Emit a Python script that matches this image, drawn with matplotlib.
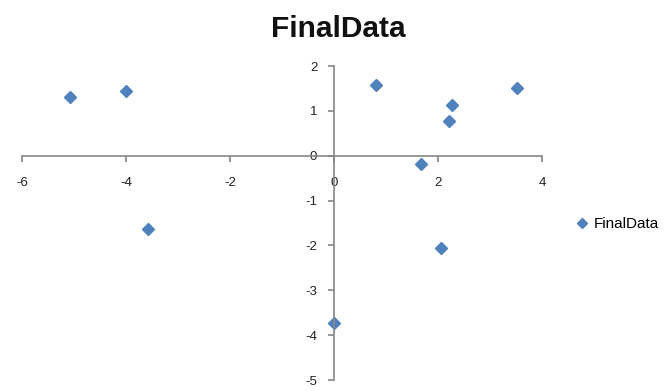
import matplotlib
matplotlib.use("Agg")
import matplotlib.pyplot as plt

# dados
x_vals = [-5.08, -4.0, -3.58, 0.81, 3.53, 2.28, 2.22, 1.67, 2.06, 0.0]
y_vals = [1.30, 1.44, -1.63, 1.58, 1.51, 1.13, 0.78, -0.18, -2.06, -3.72]
x_ticks = [-6, -4, -2, 0, 2, 4]
y_ticks = [-5, -4, -3, -2, -1, 0, 1, 2]
serie = "FinalData"

plt.rcParams["font.family"] = ["Liberation Sans", "DejaVu Sans"]
plt.rcParams["axes.unicode_minus"] = False  # Excel usa hífen

fig = plt.figure(figsize=(6.69, 3.91), dpi=100)
ax = fig.add_axes([0.0329, 0.0281, 0.810 - 0.0329, 0.831 - 0.0281])

cor = "#4F81BD"
cinza = "#868686"

ax.plot(x_vals, y_vals, linestyle="none", marker="D", markersize=6.5,
        color=cor, label=serie)

ax.set_xlim(-6, 4)
ax.set_ylim(-5, 2)
ax.set_xticks(x_ticks)
ax.set_yticks(y_ticks)

# eixos cruzando na origem, estilo Excel
ax.spines["left"].set_position(("data", 0))
ax.spines["bottom"].set_position(("data", 0))
ax.spines["top"].set_visible(False)
ax.spines["right"].set_visible(False)
for s in ["left", "bottom"]:
    ax.spines[s].set_color(cinza)
    ax.spines[s].set_linewidth(1.2)

ax.tick_params(axis="x", direction="out", length=4, width=1.2, color=cinza,
               pad=11, labelsize=9.5, labelcolor="#222222")
ax.tick_params(axis="y", direction="out", length=4, width=1.2, color=cinza,
               pad=8, labelsize=9.5, labelcolor="#222222")

fig.text(0.506, 0.927, serie, ha="center", va="center", fontsize=21.5,
         fontweight="bold", color="#111111")

fig.legend(loc="center left", bbox_to_anchor=(0.838, 0.427), frameon=False,
           fontsize=11, handletextpad=0.25, markerscale=0.75,
           handlelength=1.0)

fig.savefig("out.png", dpi=100)
